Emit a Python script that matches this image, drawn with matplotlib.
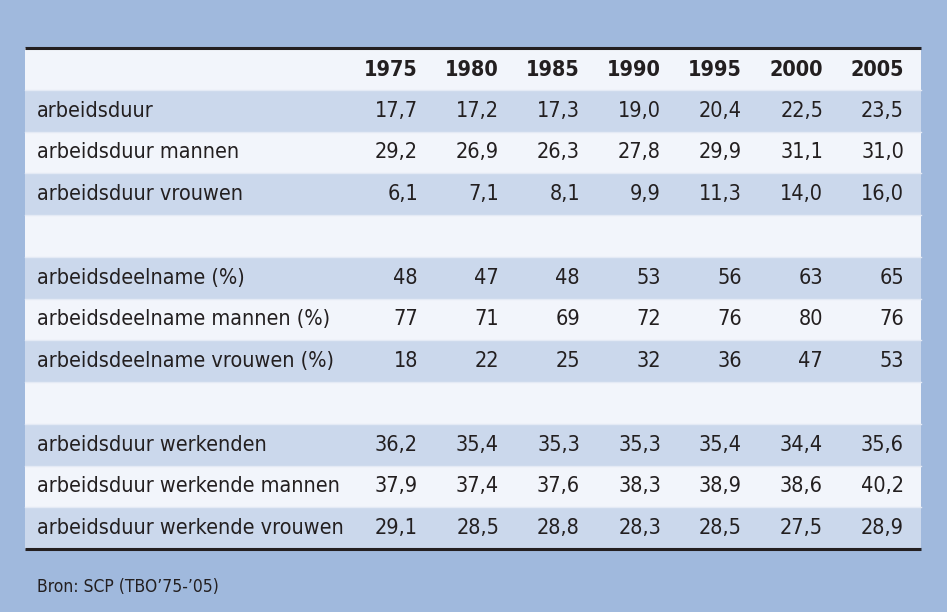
import matplotlib
matplotlib.use("Agg")
import matplotlib.pyplot as plt
from matplotlib.patches import Rectangle

plt.rcParams["font.family"] = ["DejaVu Sans"]
plt.rcParams["font.stretch"] = "condensed"

years = [1975, 1980, 1985, 1990, 1995, 2000, 2005]

# None marks an empty spacer row
row_labels = [
    "arbeidsduur",
    "arbeidsduur mannen",
    "arbeidsduur vrouwen",
    None,
    "arbeidsdeelname (%)",
    "arbeidsdeelname mannen (%)",
    "arbeidsdeelname vrouwen (%)",
    None,
    "arbeidsduur werkenden",
    "arbeidsduur werkende mannen",
    "arbeidsduur werkende vrouwen",
]

duur = [17.7, 17.2, 17.3, 19.0, 20.4, 22.5, 23.5]
duur_m = [29.2, 26.9, 26.3, 27.8, 29.9, 31.1, 31.0]
duur_v = [6.1, 7.1, 8.1, 9.9, 11.3, 14.0, 16.0]
deel = [48, 47, 48, 53, 56, 63, 65]
deel_m = [77, 71, 69, 72, 76, 80, 76]
deel_v = [18, 22, 25, 32, 36, 47, 53]
werk = [36.2, 35.4, 35.3, 35.3, 35.4, 34.4, 35.6]
werk_m = [37.9, 37.4, 37.6, 38.3, 38.9, 38.6, 40.2]
werk_v = [29.1, 28.5, 28.8, 28.3, 28.5, 27.5, 28.9]

row_values = [duur, duur_m, duur_v, None, deel, deel_m, deel_v, None, werk, werk_m, werk_v]

source = "Bron: SCP (TBO\u201975-\u201905)"

bg = "#a0b9dd"
light = "#f2f5fb"
dark = "#cbd8ec"
ink = "#231f20"


def fmt(v):
    if isinstance(v, int):
        return str(v)
    return f"{v:.1f}".replace(".", ",")


fig = plt.figure(figsize=(9.47, 6.12), dpi=100, facecolor=bg)
ax = fig.add_axes([0, 0, 1, 1])
ax.set_xlim(0, 947)
ax.set_ylim(612, 0)
ax.axis("off")

left, right = 25, 921
top, bottom = 48, 549
row_h = (bottom - top) / (len(row_labels) + 1)
col_right = [418 + i * 81 for i in range(len(years))]
fs = 15.5

# header row
ax.add_patch(Rectangle((left, top), right - left, row_h, fc=light, ec="none"))
for x, yr in zip(col_right, years):
    ax.text(x, top + row_h / 2 + 1, str(yr), ha="right", va="center",
            fontsize=fs, fontweight="bold", color=ink)

for i, (lab, vals) in enumerate(zip(row_labels, row_values)):
    y0 = top + row_h * (i + 1)
    color = dark if i % 2 == 0 else light
    ax.add_patch(Rectangle((left, y0), right - left, row_h, fc=color, ec="none"))
    ax.plot([left, right], [y0, y0], color="#e4eaf5", lw=1)
    if lab is None:
        continue
    yc = y0 + row_h / 2
    ax.text(37, yc, lab, ha="left", va="center", fontsize=fs, color=ink)
    for x, v in zip(col_right, vals):
        ax.text(x, yc, fmt(v), ha="right", va="center", fontsize=fs, color=ink)

ax.plot([left, right], [top, top], color=ink, lw=2.2, solid_capstyle="butt")
ax.plot([left, right], [bottom, bottom], color=ink, lw=2.2, solid_capstyle="butt")

ax.text(37, 587, source, ha="left", va="center", fontsize=12.5, color=ink)

fig.savefig("out.png", dpi=100, facecolor=bg)
